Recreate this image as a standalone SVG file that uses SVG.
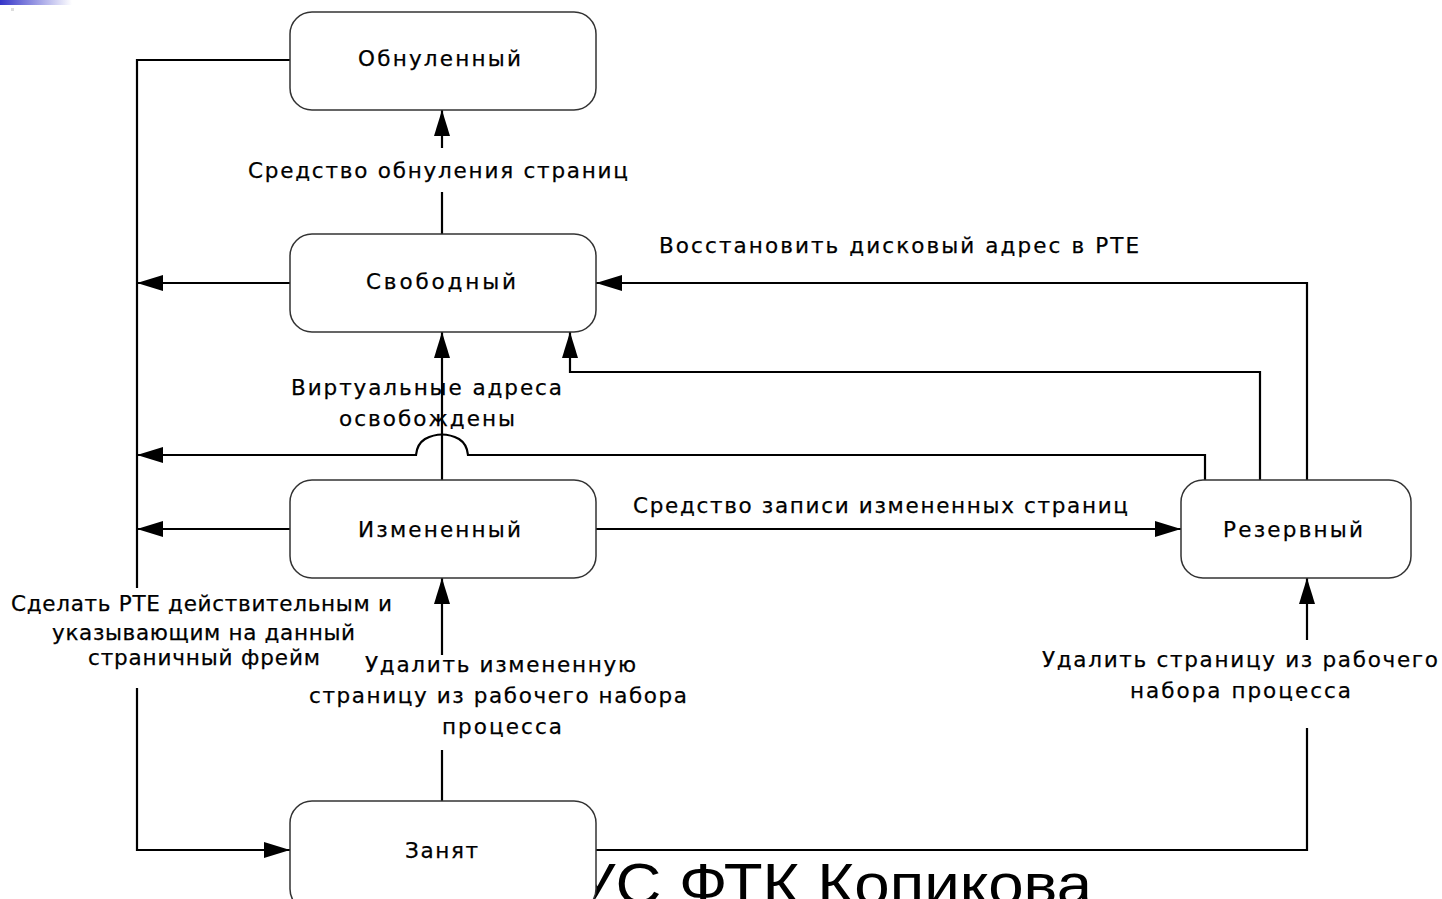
<svg xmlns="http://www.w3.org/2000/svg" width="1442" height="899" viewBox="0 0 1442 899">
  <defs>
    <linearGradient id="barGrad" x1="0" y1="0" x2="1" y2="0">
      <stop offset="0" stop-color="#3434c8"/>
      <stop offset="1" stop-color="#ffffff"/>
    </linearGradient>
    <marker id="arrow" viewBox="0 0 26 16" refX="26" refY="8" markerWidth="26" markerHeight="16" markerUnits="userSpaceOnUse" orient="auto">
      <path d="M0,0 L26,8 L0,16 Z" fill="#000"/>
    </marker>
    <style>
      .node { fill: #fff; stroke: #333; stroke-width: 1.5; }
      .lbl { font-family: "DejaVu Sans", Verdana, sans-serif; font-size: 21.5px; fill: #000; stroke: #000; stroke-width: 0.25; }
      .wire { fill: none; stroke: #000; stroke-width: 2.2; }
      .title { font-family: "Liberation Sans", Arial, sans-serif; font-size: 58px; fill: #000; }
    </style>
  </defs>

  <rect width="1442" height="899" fill="#fff"/>
  <rect x="0" y="0" width="72" height="5" fill="url(#barGrad)"/>
  <rect x="11" y="8" width="3" height="3" fill="#ddd"/>

  <!-- footer caption, partly hidden behind the bottom state -->
  <text class="title" x="575" y="904" textLength="517" lengthAdjust="spacingAndGlyphs">УС ФТК Копикова</text>

  <g id="connectors">
    <!-- left bus -->
    <path class="wire" d="M290,60 H137 V588"/>
    <path class="wire" d="M137,688 V850 H290" marker-end="url(#arrow)"/>
    <path class="wire" d="M290,283 H137" marker-end="url(#arrow)"/>
    <path class="wire" d="M290,529 H137" marker-end="url(#arrow)"/>
    <path class="wire" d="M1205,480 V455 H468 Q467,444 459,439 Q442,430 425,439 Q417,444 416,455 H137" marker-end="url(#arrow)"/>
    <!-- free -> zeroed -->
    <path class="wire" d="M442,234 V192"/>
    <path class="wire" d="M442,148 V110" marker-end="url(#arrow)"/>
    <!-- modified -> free -->
    <path class="wire" d="M442,480 V332" marker-end="url(#arrow)"/>
    <!-- standby -> free -->
    <path class="wire" d="M1260,480 V372 H570 V332" marker-end="url(#arrow)"/>
    <path class="wire" d="M1307,480 V283 H596" marker-end="url(#arrow)"/>
    <!-- modified -> standby -->
    <path class="wire" d="M596,529 H1181" marker-end="url(#arrow)"/>
    <!-- active -> modified -->
    <path class="wire" d="M442,801 V750"/>
    <path class="wire" d="M442,655 V578" marker-end="url(#arrow)"/>
    <!-- active -> standby -->
    <path class="wire" d="M596,850 H1307 V728"/>
    <path class="wire" d="M1307,640 V578" marker-end="url(#arrow)"/>
  </g>

  <g id="labels">
    <text class="lbl" x="248" y="178" textLength="380" lengthAdjust="spacing">Средство обнуления страниц</text>
    <text class="lbl" x="659" y="253" textLength="480" lengthAdjust="spacing">Восстановить дисковый адрес в РТЕ</text>
    <text class="lbl" x="291" y="395" textLength="271" lengthAdjust="spacing">Виртуальные адреса</text>
    <text class="lbl" x="339" y="426" textLength="176" lengthAdjust="spacing">освобождены</text>
    <text class="lbl" x="633" y="513" textLength="495" lengthAdjust="spacing">Средство записи измененных страниц</text>
    <text class="lbl" x="11" y="611" textLength="381" lengthAdjust="spacing">Сделать РТЕ действительным и</text>
    <text class="lbl" x="52" y="640" textLength="303" lengthAdjust="spacing">указывающим на данный</text>
    <text class="lbl" x="88" y="665" textLength="232" lengthAdjust="spacing">страничный фрейм</text>
    <text class="lbl" x="365" y="672" textLength="271" lengthAdjust="spacing">Удалить измененную</text>
    <text class="lbl" x="309" y="703" textLength="378" lengthAdjust="spacing">страницу из рабочего набора</text>
    <text class="lbl" x="442" y="734" textLength="120" lengthAdjust="spacing">процесса</text>
    <text class="lbl" x="1042" y="667" textLength="396" lengthAdjust="spacing">Удалить страницу из рабочего</text>
    <text class="lbl" x="1130" y="698" textLength="221" lengthAdjust="spacing">набора процесса</text>
  </g>

  <g id="zeroed">
    <rect class="node" x="290" y="12" width="306" height="98" rx="22"/>
    <text class="lbl" x="358" y="66" textLength="163" lengthAdjust="spacing">Обнуленный</text>
  </g>
  <g id="free">
    <rect class="node" x="290" y="234" width="306" height="98" rx="22"/>
    <text class="lbl" x="366" y="289" textLength="150" lengthAdjust="spacing">Свободный</text>
  </g>
  <g id="modified">
    <rect class="node" x="290" y="480" width="306" height="98" rx="22"/>
    <text class="lbl" x="358" y="537" textLength="163" lengthAdjust="spacing">Измененный</text>
  </g>
  <g id="standby">
    <rect class="node" x="1181" y="480" width="230" height="98" rx="22"/>
    <text class="lbl" x="1223" y="537" textLength="140" lengthAdjust="spacing">Резервный</text>
  </g>
  <g id="active">
    <rect class="node" x="290" y="801" width="306" height="110" rx="22"/>
    <text class="lbl" x="405" y="858" textLength="73" lengthAdjust="spacing">Занят</text>
  </g>
</svg>
